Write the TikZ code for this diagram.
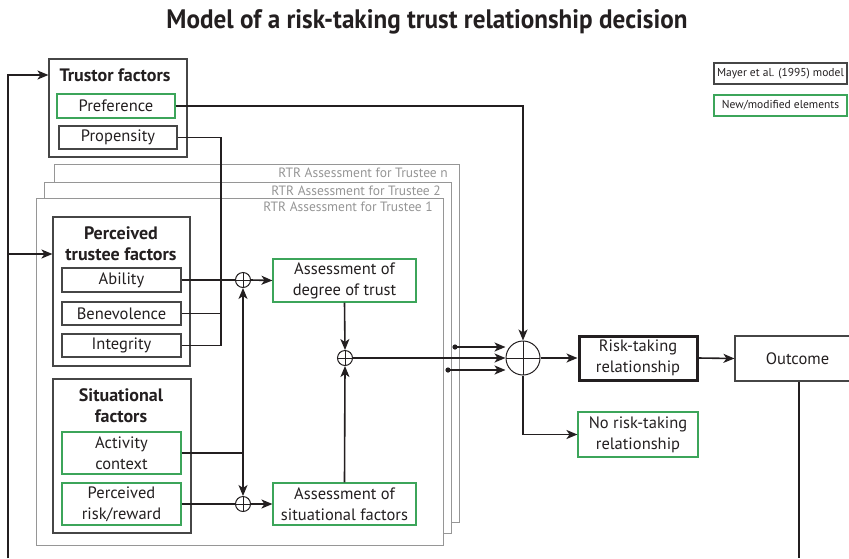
\documentclass[tikz,border=0pt]{standalone}
\usepackage{fontspec}
\setmainfont{PT Sans}
\usetikzlibrary{arrows.meta,calc}
\definecolor{bgray}{RGB}{70,70,70}
\definecolor{mgreen}{RGB}{60,165,90}
\definecolor{rgray}{RGB}{150,150,150}
\definecolor{ink}{RGB}{35,31,32}
\begin{document}
\begin{tikzpicture}[x=1pt,y=-1pt,
  font=\fontsize{16.5}{21}\selectfont,
  box/.style={draw=bgray,line width=1.1pt,inner sep=0pt,align=center,text=ink},
  gbox/.style={box,draw=mgreen},
  grp/.style={draw=bgray,line width=1.1pt,inner sep=0pt},
  head/.style={font=\fontsize{18}{21}\selectfont\bfseries,align=center,inner sep=0pt,text=ink},
  rtr/.style={draw=rgray,line width=0.9pt,fill=white,inner sep=0pt},
  rtrlab/.style={text=rgray,font=\fontsize{13.5}{15}\selectfont,anchor=east,inner sep=0pt},
  con/.style={draw=ink,line width=1.6pt},
  arr/.style={con,-{Stealth[length=11pt,width=9pt,inset=3pt]}},
  oplus/.style={circle,draw=ink,line width=1pt,inner sep=0pt,minimum size=#1,
    path picture={\draw[ink,line width=1pt] (path picture bounding box.north) -- (path picture bounding box.south)
      (path picture bounding box.west) -- (path picture bounding box.east);}},
  leg/.style={box,font=\fontsize{11.5}{13}\selectfont,minimum width=133pt,minimum height=21pt},
]
\useasboundingbox (0,0) rectangle (849,558);

% title
\node[inner sep=0pt,text=ink] (title) at (427,22) {\resizebox{521pt}{19pt}{\bfseries Model of a risk-taking trust relationship decision}};

% legend
\node[leg] (mayer) at (780.5,73.5) {Mayer et al. (1995) model};
\node[leg,draw=mgreen] (newmod) at (780.5,105.5) {New/modified elements};

% trustor factors
\node[grp,minimum width=138pt,minimum height=98pt] (trustor) at (118,108) {};
\node[head] (trustorlab) at (115,75) {Trustor factors};
\node[gbox,minimum width=118pt,minimum height=24pt] (pref) at (116,106) {Preference};
\node[box,minimum width=118pt,minimum height=23pt] (prop) at (118,137.5) {Propensity};

% stacked RTR assessments
\node[rtr,minimum width=405pt,minimum height=358pt] (rtrn) at (256.5,343) {};
\node[rtrlab] (labn) at (448,173) {RTR Assessment for Trustee n};
\node[rtr,minimum width=407pt,minimum height=351pt] (rtr2) at (247.5,357.5) {};
\node[rtrlab] (lab2) at (441,191) {RTR Assessment for Trustee 2};
\node[rtr,minimum width=407pt,minimum height=347pt] (rtr1) at (239.5,371.5) {};
\node[rtrlab] (lab1) at (433,207) {RTR Assessment for Trustee 1};

% perceived trustee factors
\node[grp,minimum width=137pt,minimum height=149pt] (perc) at (121.5,291.5) {};
\node[head] (perclab) at (121,243.5) {Perceived\\trustee factors};
\node[box,minimum width=119pt,minimum height=24pt] (abil) at (121.5,280) {Ability};
\node[box,minimum width=119pt,minimum height=23pt] (benev) at (121.5,313.5) {Benevolence};
\node[box,minimum width=119pt,minimum height=23pt] (integ) at (121.5,345.5) {Integrity};

% situational factors
\node[grp,minimum width=138pt,minimum height=154pt] (sit) at (122,456) {};
\node[head] (sitlab) at (121,405.5) {Situational\\factors};
\node[gbox,minimum width=119pt,minimum height=42pt] (act) at (121.5,453) {Activity\\context};
\node[gbox,minimum width=119pt,minimum height=42pt] (risk) at (121.5,504) {Perceived\\risk/reward};

% assessments
\node[gbox,minimum width=143pt,minimum height=43pt] (adt) at (344.5,280.5) {Assessment of\\degree of trust};
\node[gbox,minimum width=143pt,minimum height=42pt] (asf) at (344.5,504) {Assessment of\\situational factors};

% summing junctions
\node[oplus=15pt] (c1) at (243,280) {};
\node[oplus=15pt] (c2) at (243,504) {};
\node[oplus=15pt] (c3) at (345,358) {};
\node[oplus=34pt] (big) at (523,358) {};

% outcomes
\node[box,draw=ink,line width=3pt,minimum width=118pt,minimum height=44pt] (rtrel) at (638,358) {Risk-taking\\relationship};
\node[gbox,minimum width=120pt,minimum height=45pt] (norisk) at (638,434.5) {No risk-taking\\relationship};
\node[box,minimum width=125pt,minimum height=45pt] (outcome) at (797.5,358.5) {Outcome};

% helper coordinates
\coordinate (fb) at (8,558);
\coordinate (pin) at (0,254);
\coordinate (jx) at (221,0);
\coordinate (b1) at (455,347);
\coordinate (b2) at (448,370);
\coordinate (oc) at (799,558);

% feedback loop
\draw[con] (outcome.south -| oc) -- (oc);
\draw[arr] (fb) |- (trustor.west |- trustorlab);
\draw[arr] (fb) |- (perc.west |- pin);

% trustor lines
\draw[arr] (pref.east) -| (big.north);
\draw[con] (prop.east) -- (prop.east -| jx) |- (integ.east);
\draw[con] (benev.east) -- (benev.east -| jx);

% trust assessment
\draw[con] (abil.east) -- (c1.west);
\draw[arr] (c1.east) -- (adt.west);
\draw[con] (act.east) -- (act.east -| c1);
\draw[arr] (act.east -| c1) -- (c1.south);
\draw[arr] (act.east -| c1) -- (c2.north);
\draw[con] (risk.east) -- (c2.west);
\draw[arr] (c2.east) -- (asf.west);
\draw[arr] (adt.south) -- (c3.north);
\draw[arr] (asf.north) -- (c3.south);

% decision
\draw[arr] (c3.east) -- (big.west);
\fill[ink] (b1) circle (2.6);
\fill[ink] (b2) circle (2.6);
\draw[arr] (b1) -- (big.west |- b1);
\draw[arr] (b2) -- (big.west |- b2);
\draw[arr] (big.east) -- (rtrel.west);
\draw[arr] (rtrel.east) -- (outcome.west);
\draw[arr] (big.south) |- (norisk.west);
\end{tikzpicture}
\end{document}
